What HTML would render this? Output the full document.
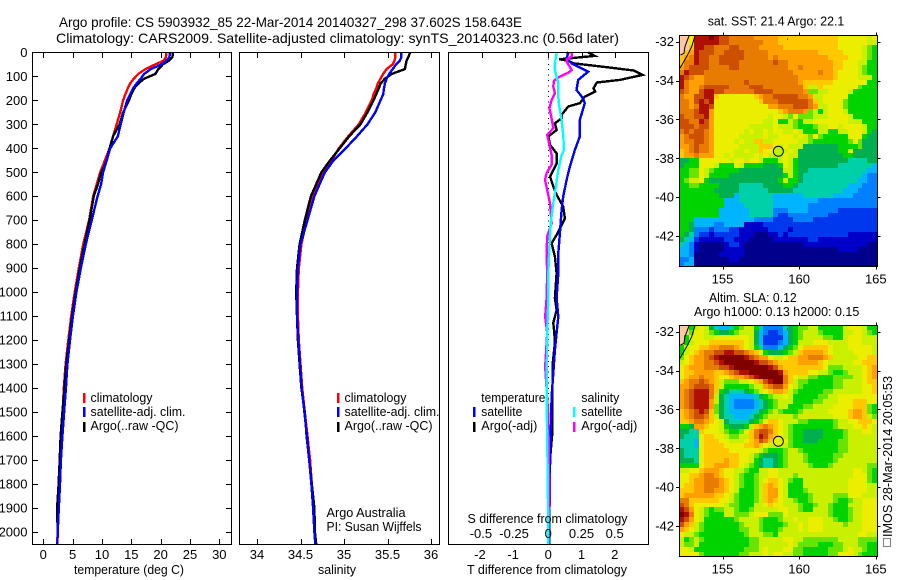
<!DOCTYPE html>
<html lang="en">
<head>
<meta charset="utf-8">
<title>Argo profile CS 5903932_85</title>
<style>
html,body{margin:0;padding:0;background:#fff;width:900px;height:580px;overflow:hidden}
svg{display:block}
text{font-family:"Liberation Sans",sans-serif;font-size:13px;fill:#000}
.frame{fill:none;stroke:#000;stroke-width:1;shape-rendering:crispEdges}
.tick{stroke:#000;stroke-width:1;shape-rendering:crispEdges}
.series{fill:none;stroke-width:2.4;stroke-linejoin:miter;shape-rendering:crispEdges}
.bar{shape-rendering:crispEdges}
</style>
</head>
<body>
<svg id="chart" xmlns="http://www.w3.org/2000/svg" width="900" height="580" viewBox="0 0 900 580">
  <rect x="0" y="0" width="900" height="580" fill="#fff"/>
  <text x="59" y="27" font-size="14" style="font-size:14px" textLength="463" lengthAdjust="spacingAndGlyphs">Argo profile: CS 5903932_85 22-Mar-2014 20140327_298 37.602S 158.643E</text>
  <text x="56" y="43" style="font-size:14px" textLength="563" lengthAdjust="spacingAndGlyphs">Climatology: CARS2009. Satellite-adjusted climatology: synTS_20140323.nc (0.56d later)</text>

  <g id="heatSst"></g>
  <g id="heatSla"></g>
  <g id="marks"></g>
  <g id="axes"></g>

  <rect class="frame" x="32.5" y="52.5" width="199" height="492"/>
  <rect class="frame" x="239.5" y="52.5" width="200" height="492"/>
  <rect class="frame" x="448.5" y="52.5" width="200" height="492"/>

  <text x="74" y="574" textLength="110" lengthAdjust="spacingAndGlyphs">temperature (deg C)</text>
  <text x="318" y="574" textLength="38" lengthAdjust="spacingAndGlyphs">salinity</text>
  <text x="467" y="574" textLength="160" lengthAdjust="spacingAndGlyphs">T difference from climatology</text>
  <text x="467.5" y="523" textLength="160" lengthAdjust="spacingAndGlyphs">S difference from climatology</text>

  <g>
    <rect class="bar" x="83" y="393" width="2.5" height="10" fill="#f00"/>
    <text x="90.5" y="402" textLength="62" lengthAdjust="spacingAndGlyphs">climatology</text>
    <rect class="bar" x="83" y="407" width="2.5" height="10" fill="#00f"/>
    <text x="90.5" y="416" textLength="95" lengthAdjust="spacingAndGlyphs">satellite-adj. clim.</text>
    <rect class="bar" x="83" y="422" width="2.5" height="10" fill="#000"/>
    <text x="90.5" y="430" textLength="88" lengthAdjust="spacingAndGlyphs">Argo(..raw -QC)</text>
  </g>
  <g>
    <rect class="bar" x="337" y="393" width="2.5" height="10" fill="#f00"/>
    <text x="344.5" y="402" textLength="62" lengthAdjust="spacingAndGlyphs">climatology</text>
    <rect class="bar" x="337" y="407" width="2.5" height="10" fill="#00f"/>
    <text x="344.5" y="416" textLength="95" lengthAdjust="spacingAndGlyphs">satellite-adj. clim.</text>
    <rect class="bar" x="337" y="422" width="2.5" height="10" fill="#000"/>
    <text x="344.5" y="430" textLength="88" lengthAdjust="spacingAndGlyphs">Argo(..raw -QC)</text>
  </g>
  <text x="326.5" y="517" textLength="79" lengthAdjust="spacingAndGlyphs">Argo Australia</text>
  <text x="326.5" y="531" textLength="95" lengthAdjust="spacingAndGlyphs">PI: Susan Wijffels</text>

  <g>
    <text x="481.3" y="402" textLength="64" lengthAdjust="spacingAndGlyphs">temperature</text>
    <rect class="bar" x="473" y="407" width="2.5" height="10" fill="#00f"/>
    <text x="481.3" y="416" textLength="41" lengthAdjust="spacingAndGlyphs">satellite</text>
    <rect class="bar" x="473" y="422" width="2.5" height="10" fill="#000"/>
    <text x="481.3" y="430" textLength="56" lengthAdjust="spacingAndGlyphs">Argo(-adj)</text>
    <text x="581.3" y="402" textLength="38" lengthAdjust="spacingAndGlyphs">salinity</text>
    <rect class="bar" x="573" y="407" width="2.5" height="10" fill="#0ff"/>
    <text x="581.3" y="416" textLength="41" lengthAdjust="spacingAndGlyphs">satellite</text>
    <rect class="bar" x="573" y="422" width="2.5" height="10" fill="#f0f"/>
    <text x="581.3" y="430" textLength="56" lengthAdjust="spacingAndGlyphs">Argo(-adj)</text>
  </g>

  <text x="707.7" y="25.7" textLength="136.6" lengthAdjust="spacingAndGlyphs">sat. SST: 21.4 Argo: 22.1</text>
  <text x="709" y="302" textLength="87.7" lengthAdjust="spacingAndGlyphs">Altim. SLA: 0.12</text>
  <text x="694" y="316" textLength="165.3" lengthAdjust="spacingAndGlyphs">Argo h1000: 0.13 h2000: 0.15</text>

  <rect x="883.5" y="538.5" width="7" height="8" fill="none" stroke="#000" stroke-width="1" stroke-dasharray="1 1" shape-rendering="crispEdges"/>
  <text transform="translate(892 537) rotate(-90)" x="0" y="0" textLength="161" lengthAdjust="spacingAndGlyphs">IMOS 28-Mar-2014 20:05:53</text>
</svg>

<script>
// ---- profile data (depth in metres) ----
const depths = [0,20,35,50,70,90,110,130,150,175,200,250,300,350,400,450,500,550,600,700,800,900,1000,1100,1200,1300,1400,1500,1600,1700,1800,1900,2000,2050];
const tempClim = [21.0,20.9,20.5,19.1,17.4,16.2,15.4,14.8,14.4,14.0,13.6,13.1,12.5,11.9,11.3,10.5,9.7,9.1,8.5,7.8,6.8,6.05,5.35,4.75,4.26,3.8,3.5,3.3,3.0,2.85,2.75,2.55,2.45,2.35];
const tempSat = [21.6,21.5,21.0,20.2,18.3,17.2,16.6,15.9,15.3,14.8,14.3,13.7,13.2,12.7,11.4,10.8,10.2,9.85,9.25,8.25,7.25,6.4,5.65,5.05,4.55,4.1,3.85,3.55,3.25,3.0,2.85,2.65,2.45,2.4];
const tempArgo = [22.1,22.0,21.4,20.4,19.6,19.1,17.2,16.2,15.5,15.0,14.6,13.6,13.0,11.9,11.3,10.8,9.9,9.3,8.6,7.9,7.0,6.2,5.5,4.9,4.4,3.9,3.6,3.25,2.95,2.8,2.6,2.35,2.45,2.4];
const salClim = [35.59,35.59,35.58,35.56,35.49,35.45,35.42,35.39,35.37,35.34,35.32,35.25,35.17,35.05,34.94,34.86,34.75,34.70,34.64,34.57,34.51,34.48,34.47,34.47,34.48,34.5,34.52,34.55,34.58,34.61,34.63,34.65,34.66,34.68];
const salSat = [35.66,35.66,35.64,35.60,35.56,35.52,35.49,35.47,35.46,35.45,35.42,35.36,35.27,35.15,35.02,34.88,34.78,34.72,34.66,34.58,34.5,34.47,34.46,34.46,34.475,34.495,34.515,34.545,34.575,34.6,34.625,34.645,34.66,34.67];
const salArgo = [35.76,35.74,35.72,35.71,35.70,35.55,35.47,35.42,35.40,35.37,35.34,35.27,35.19,35.06,34.95,34.84,34.74,34.68,34.62,34.55,34.49,34.46,34.45,34.46,34.47,34.49,34.51,34.55,34.57,34.6,34.63,34.66,34.665,34.68];

const dtSatDepths = [0,4,25,46,81,115,157,192,212,282,351,407,476,532,601,657,754,837,921,1025,1102,1170,1240,1337,1436,1545,1728,1990,2050];
const dtSat = [0.55,0.60,0.55,0.70,1.2,0.90,0.85,1.05,1.10,0.95,0.95,0.80,0.65,0.55,0.45,0.40,0.35,0.30,0.30,0.25,0.30,0.25,0.20,0.15,0.10,0.08,0.05,0.03,0.03];
const dtArgoDepths = [0,4,15,29,35,46,62,76,94,115,126,150,164,185,212,226,261,275,296,324,351,386,421,463,518,560,594,643,692,761,796,851,921,1025,1074,1128,1170,1212,1300,1587,1700,2050];
const dtArgo = [1.20,1.25,1.40,0.33,0.60,0.75,1.76,2.57,2.84,2.16,1.46,1.36,1.41,1.10,0.95,0.60,0.40,0.40,0.20,0.25,0.0,0.05,0.25,0.25,0.05,0.15,0.25,0.45,0.50,0.25,0.10,0.20,0.25,0.20,0.25,0.15,0.18,0.20,0.13,0.12,0.05,0.02];
const dsSatDepths = [0,46,74,129,185,226,282,351,407,428,490,588,629,713,810,921,1025,1170,1440,1728,1990,2050];
const dsSat = [0.063,0.05,0.05,0.075,0.075,0.083,0.10,0.113,0.118,0.10,0.075,0.05,0.038,0.018,0.008,0,0,-0.008,-0.013,-0.005,0,0];
const dsArgoDepths = [0,18,29,39,74,85,101,118,143,171,199,233,275,317,344,386,428,469,504,532,574,629,713,768,838,921,1025,1102,1170,1310,1517,1863,1990,2050];
const dsArgo = [0.176,0.176,0.138,0.138,0.176,0.15,0.088,0.043,0.038,0.05,0.025,0.008,0.025,0.038,-0.008,0.008,0.025,0.025,-0.013,-0.025,-0.008,0.013,0.025,-0.008,-0.013,-0.008,-0.013,-0.023,-0.008,-0.023,0,0.008,0,0];

// ---- tick labels ----
const depthTicks = [0,100,200,300,400,500,600,700,800,900,1000,1100,1200,1300,1400,1500,1600,1700,1800,1900,2000];
const tempTicks = [0,5,10,15,20,25,30];
const salTicks = [34,34.5,35,35.5,36];
const dtTicks = [-2,-1,0,1,2];
const dsTicks = [-0.5,-0.25,0,0.25,0.5];
const lonTicks = [155,160,165];
const latTicks = [-32,-34,-36,-38,-40,-42];

// ---- float position and coast ----
const floatLon = 158.643;
const floatLat = -37.602;
const coastLons = [153.21,152.99,152.66,152.23];
const coastLats = [-31.68,-32.26,-32.78,-33.36];
const shoreLons = [152.83,152.55,152.49,152.27];
const shoreLats = [-31.68,-32.26,-32.60,-32.69];

// ---- map cells: colour level per cell (0 coldest .. g warmest, x land) ----
const sstRows = [
"xxafffgfee dddddccccc bbbbbbbbbb bbaaaaaa9a",
"xxafffffee dddddddccc bbbbbbbbbb bbaaaaaa99",
"xxbffeeddd eeddddcccc cbbbbbbbbb bbaaaaa987",
"xbcfeeedde eeedddddcc ccccccccbb bbbaaaa987",
"bcdfeeddee eeedddddcd cccccccccc bbbbaaa987",
"bddfeeddee eeddddddde ddcccccccc cbbaaa9977",
"cdeeeedddd eedddddddd ddccdccccc cbbaaa9877",
"dfeeeddddd dddddddddd dddcccccdc cbaaaa9877",
"fedccddddd dddddddddd ddddcccccc cbaaaa9997",
"fdcccddddd dddedddddd ddddcbbbbb baaaaaaa77",
"fdccdeeeee ddddeeeddd dddddb99ba aaaaaa8777",
"edcceffeed dddddeeeed dddddc8899 aaaa977777",
"dcceeffbaa aaaaabcdde eeeeddc99a aaaa777777",
"ddcefefaaa aaaaaabddd eeeeeedb9a aaa8777777",
"ddcdffeaaa aaaaaaaacc dddeeedc99 aaa8777777",
"dddeffcaaa aaaaaaaaaa bcdddc8979 aaa9777777",
"eddeefcaaa aaaaaaaa9a a98a888999 aaaa977777",
"eeddfecaaa aaaaaaa99a 7798799aaa aaaa999777",
"eeedeecaaa aaaa99999a 9998777899 aa9aaaa977",
"dedeedcaaa aaa9a99a9a a99a977799 7799aaa976",
"cdeeedcaaa aa99999a99 aaa9a98a87 7777aaa766",
"cddeedcaaa a9a99bb99a aaaa998777 77778a8666",
"ccdeddcaaa aa9999bbba 9a99966666 6677778666",
"bcdeddcaaa a99a99baa9 99a9666666 6677a66666",
"bccdcccaa9 a9999a9a99 9a99666666 6667766666",
"6677aaaaaa 9aa9aa9777 9a97666666 6666555566",
"6777aaa977 7a97777666 7a97666666 6655555554",
"7788a98777 7766666666 6997665555 5555555544",
"7788a97777 6666666666 6797655555 5555555433",
"7899a76666 6666666666 7977655555 5555554433",
"7788777766 6655555666 6776555555 5555444333",
"7777777666 6655555566 6665555555 5554443333",
"7777777766 6455555554 4444455555 5444433333",
"7777777774 4455555554 4444444433 3333333333",
"7777777774 4445555554 4444443333 3333333333",
"7777777744 4444555553 3344443333 3322222222",
"7777777744 4444555553 2233333333 2222222222",
"7774444444 4444433332 2223333222 2222222222",
"7764444334 4441111222 2222222222 2222222222",
"7763332333 2211111122 2212222222 2222222222",
"7653221222 2211100011 2122222222 2222111111",
"6542111112 2111000001 1111112211 1111111111",
"5431000001 2210000000 0000011111 1111111100",
"4431000001 1110000000 0000000000 0011110000",
"4430000011 1110000000 0000000000 0000000000",
"3340000000 1100000000 0000000000 0000000000",
"3440000000 0000000000 0000000000 0000000000"
];
const slaRows = [
"xx79a96544 5789975333 3567889977 7779aaa977",
"xx8aa98766 7899964322 3467899987 77799aa987",
"x7aaa99aaa aaaa964222 2467899998 8779aaa999",
"x79aaabbbb bbba964222 3467999aaa 9999aaa999",
"79aabbccdd dcba975333 4678abbbbb a999aaaaa9",
"79abcddeef feedcba766 6789bccccb a9999aaaa9",
"8abccdefgg gggfedcca9 9abbccdddc b99999aabb",
"9abccddefg gggggfeedc bbbbccccba 99999aabbb",
"abcccdddee fgggggggfe cbbbbbbbba 8889999abc",
"abbccccbbc deffgggggg fcbbbbaa99 8778999abc",
"abccdccbaa bccdefgggg gdba998877 7888899abc",
"bcddedcb98 8899abcefg gdb9887777 7889999abb",
"ccdeeedb97 7777899cde eca9877777 7889999aab",
"cdefffdb76 5556789abc cb98777778 8999999aab",
"cdefffd965 4444456789 9a97777788 99aaaaaaaa",
"cdefffc965 4333345678 9997777889 99aaabbbaa",
"cdefffc865 4333345678 9977788999 9aaaabbb87",
"bcdefeb865 4444456789 8777899999 aaaabccb87",
"bcdeedb965 5444567899 9998999999 9aaabccb98",
"bbcddcba96 5555678abb a999887777 7899aabbba",
"776ccbaa97 66679bcdcb a987777777 78999aaba9",
"6655baaa98 778abdeedb a987766667 7778999aa9",
"6555abbaa9 8899bdfecb a987766667 7778999999",
"5554abbbaa 999abcedba 9a87766677 7788999999",
"5554abbbba aaabbcba99 9987777777 7788999999",
"6555abbbbb aaaaaa9877 7899877777 7788999999",
"6555abbbbb bbaa987666 7899987777 7889999999",
"6665abbbbc bbaa976556 7899987777 7899999999",
"7777abbccc bba9876556 7899998777 8999999988",
"99aabcccba a9987799aa 9999999999 99999aa987",
"aabbcddcba a9877899aa 9998999999 99999aaa87",
"aabccdddcb a987789abb a987799999 9999aaaa87",
"abbccdddcb a987789bcb a977799999 9999aaaa99",
"bbbccddccb a977789bcc a977789999 9999aaaa99",
"bccccccbba 9877789bcc a977778999 9888aaa999",
"ddbbbbbbaa 9877789bcb a998778999 9877899aaa",
"edbaaaaaa9 8877799aba a999877899 8777999aaa",
"feca987889 9877899999 aa99877999 8777899aaa",
"gfda987779 98889aaa88 8a99999999 8777899aaa",
"feca977777 7899998777 899a99aaa9 9877899aaa",
"ecb9877777 7789998777 7899a9aaa9 9998999aaa",
"cba9877777 7788998777 8999a9aaa9 9999999aaa",
"a998777777 7778999887 9999999999 999999aa99",
"9789877777 7777889999 9aa9988888 8899998888",
"9889777777 7777889999 99a9888877 7889998877",
"aa97777777 7778889a99 9aa8877777 8889a99877",
"aaaa877777 7788999a9a a998877777 88aaa98777"
];

// ---- axis functions ----
function yDepth(d){ return 52.3 + d * 0.2399; }
function xTemp(t){ return 43.3 + t * 5.867; }
function xSal(s){ return 257 + (s - 34) * 87; }
function xDiffT(t){ return 548.3 + t * 33.2; }
function xDiffS(s){ return 548.3 + s * 132.8; }
function xLon(lon){ return 722.5 + (lon - 155) * 15.33; }
function yLatSst(lat){ return 41.6 + (-32 - lat) * 19.45; }
function yLatSla(lat){ return 331.6 + (-32 - lat) * 19.45; }

const NS = 'http://www.w3.org/2000/svg';
const marks = document.getElementById('marks');
const axes = document.getElementById('axes');
const levelCodes = '0123456789abcdefg';
const levelColors = ['#00008c','#0000c8','#0038ee','#0080ff','#00b4ff','#00d0a8','#00b050','#00d400','#68e400','#c8f000','#ecee00','#ffc800','#ffa000','#e87c00','#cc5000','#b01000','#800000'];
const landColor = '#ffc8a0';

function drawLine(parent, name, color, xs, ys, xf, yf){
  const pts = xs.map(function(v, i){ return xf(v).toFixed(1) + ',' + yf(ys[i]).toFixed(1); }).join(' ');
  const el = document.createElementNS(NS, 'polyline');
  el.setAttribute('class', 'series');
  el.setAttribute('points', pts);
  el.setAttribute('stroke', color);
  
  
  parent.appendChild(el);
}
function drawTick(name, x1, y1, x2, y2){
  const el = document.createElementNS(NS, 'line');
  el.setAttribute('class', 'tick');
  el.setAttribute('x1', x1);
  el.setAttribute('y1', y1);
  el.setAttribute('x2', x2);
  el.setAttribute('y2', y2);
  
  
  axes.appendChild(el);
}
function drawLabel(name, str, x, y, anchor){
  const el = document.createElementNS(NS, 'text');
  el.setAttribute('x', x);
  el.setAttribute('y', y);
  el.setAttribute('text-anchor', anchor);
  el.textContent = str;
  
  
  axes.appendChild(el);
}
function drawCells(groupId, rows, yTop){
  const g = document.getElementById(groupId);
  const left = 679.3, cw = 198 / 40, ch = 231.4 / 47;
  rows.forEach(function(row, r){
    const cells = row.replace(/ /g, '');
    for (let c = 0; c < cells.length && c < 40; c++){
      const code = cells[c];
      const x0 = Math.round(left + c * cw), x1 = Math.round(left + (c + 1) * cw);
      const y0 = Math.round(yTop + r * ch), y1 = Math.round(yTop + (r + 1) * ch);
      const el = document.createElementNS(NS, 'rect');
      el.setAttribute('x', x0);
      el.setAttribute('y', y0);
      el.setAttribute('width', x1 - x0);
      el.setAttribute('height', y1 - y0);
      el.setAttribute('fill', code === 'x' ? landColor : levelColors[levelCodes.indexOf(code)]);
      el.setAttribute('shape-rendering', 'crispEdges');
      
      
      g.appendChild(el);
    }
  });
}

// ---- map cells ----
drawCells('heatSst', sstRows, 35.3);
drawCells('heatSla', slaRows, 325.3);

// ---- temperature panel ----
drawLine(marks, 'temperature-climatology-line', '#f00', tempClim, depths, xTemp, yDepth);
drawLine(marks, 'temperature-argo-line', '#000', tempArgo, depths, xTemp, yDepth);
drawLine(marks, 'temperature-satellite-line', '#00f', tempSat, depths, xTemp, yDepth);
// ---- salinity panel ----
drawLine(marks, 'salinity-climatology-line', '#f00', salClim, depths, xSal, yDepth);
drawLine(marks, 'salinity-argo-line', '#000', salArgo, depths, xSal, yDepth);
drawLine(marks, 'salinity-satellite-line', '#00f', salSat, depths, xSal, yDepth);
// ---- difference panel ----
const zeroLine = document.createElementNS(NS, 'line');
zeroLine.setAttribute('x1', xDiffT(0));
zeroLine.setAttribute('x2', xDiffT(0));
zeroLine.setAttribute('y1', 53);
zeroLine.setAttribute('y2', 544);
zeroLine.setAttribute('stroke', '#000');
zeroLine.setAttribute('stroke-width', '1');
zeroLine.setAttribute('stroke-dasharray', '1 4.4');
zeroLine.setAttribute('shape-rendering', 'crispEdges');


marks.appendChild(zeroLine);
drawLine(marks, 'delta-t-argo-line', '#000', dtArgo, dtArgoDepths, xDiffT, yDepth);
drawLine(marks, 'delta-t-satellite-line', '#00f', dtSat, dtSatDepths, xDiffT, yDepth);
drawLine(marks, 'delta-s-argo-line', '#f0f', dsArgo, dsArgoDepths, xDiffS, yDepth);
drawLine(marks, 'delta-s-satellite-line', '#0ff', dsSat, dsSatDepths, xDiffS, yDepth);

// ---- profile axes ----
depthTicks.forEach(function(d){
  const y = Math.round(yDepth(d)) + 0.5;
  if (d > 0) {
    drawTick('depth-tick-left', 33, y, 38, y);
    drawTick('depth-tick-right', 226, y, 231, y);
  }
  drawLabel('depth-tick-label', String(d), 27.5, yDepth(d) + 4.5, 'end');
});
tempTicks.forEach(function(t){
  const x = Math.round(xTemp(t)) + 0.5;
  drawTick('temperature-tick-top', x, 53, x, 58);
  drawTick('temperature-tick-bottom', x, 539, x, 544);
  drawLabel('temperature-tick-label', String(t), xTemp(t), 559, 'middle');
});
salTicks.forEach(function(s){
  const x = Math.round(xSal(s)) + 0.5;
  drawTick('salinity-tick-top', x, 53, x, 58);
  drawTick('salinity-tick-bottom', x, 539, x, 544);
  drawLabel('salinity-tick-label', String(s), xSal(s), 559, 'middle');
});
dtTicks.forEach(function(t){
  const x = Math.round(xDiffT(t)) + 0.5;
  drawTick('t-difference-tick-top', x, 53, x, 58);
  drawLabel('t-difference-tick-label', String(t), xDiffT(t) - (t < 0 ? 2 : 0), 559, 'middle');
});
dsTicks.forEach(function(s){
  drawLabel('s-difference-tick-label', String(s), xDiffS(s) - (s < 0 ? 1 : 0), 538, 'middle');
});

// ---- map axes and overlays ----
[[35.5, 266.5, yLatSst, 283.5, 'sst', '#c4ee00'],
 [325.5, 556.5, yLatSla, 573.5, 'sla', '#dcf000']].forEach(function(m){
  const top = m[0], bottom = m[1], yLat = m[2], labelY = m[3], id = m[4], fillCol = m[5];
  drawLine(axes, id + '-coastline', '#000', coastLons, coastLats, xLon, yLat);
  axes.lastChild.setAttribute('style', 'stroke-width:1;shape-rendering:auto');
  drawLine(axes, id + '-shoreline', '#000', shoreLons, shoreLats, xLon, yLat);
  axes.lastChild.setAttribute('style', 'stroke-width:1;shape-rendering:auto');
  const frame = document.createElementNS(NS, 'rect');
  frame.setAttribute('class', 'frame');
  frame.setAttribute('x', 679.5);
  frame.setAttribute('y', top);
  frame.setAttribute('width', 198);
  frame.setAttribute('height', bottom - top);
  
  
  axes.appendChild(frame);
  lonTicks.forEach(function(lon){
    const x = Math.round(xLon(lon)) + 0.5;
    drawTick(id + '-lon-tick-top', x, top - 3, x, top);
    drawTick(id + '-lon-tick-bottom', x, bottom, x, bottom + 3);
    drawLabel(id + '-lon-tick-label', String(lon), xLon(lon), labelY, 'middle');
  });
  latTicks.forEach(function(lat){
    const y = Math.round(yLat(lat)) + 0.5;
    drawTick(id + '-lat-tick-left', 676, y, 679, y);
    drawTick(id + '-lat-tick-right', 877.5, y, 880.5, y);
    drawLabel(id + '-lat-tick-label', String(lat), 674, yLat(lat) + 4.5, 'end');
  });
  const marker = document.createElementNS(NS, 'circle');
  marker.setAttribute('cx', xLon(floatLon));
  marker.setAttribute('cy', yLat(floatLat) + 0.7);
  marker.setAttribute('r', 5);
  marker.setAttribute('fill', fillCol);
  marker.setAttribute('stroke', '#000');
  marker.setAttribute('stroke-width', '1');
  
  
  axes.appendChild(marker);
  const islet = document.createElementNS(NS, 'rect');
  islet.setAttribute('x', 787);
  islet.setAttribute('y', top + 3);
  islet.setAttribute('width', 1);
  islet.setAttribute('height', 1);
  islet.setAttribute('fill', '#000');
  
  
  axes.appendChild(islet);
});
</script>
</body>
</html>
